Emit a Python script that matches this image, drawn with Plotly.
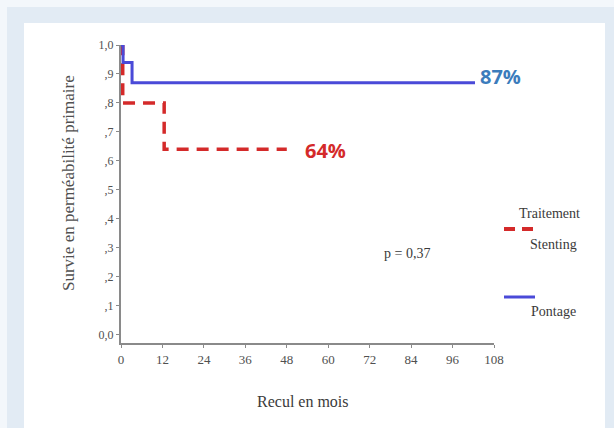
import plotly.graph_objects as go

# ---- data ----
months_ticks = [0, 12, 24, 36, 48, 60, 72, 84, 96, 108]
y_ticks = [0.0, 0.1, 0.2, 0.3, 0.4, 0.5, 0.6, 0.7, 0.8, 0.9, 1.0]
y_tick_labels = ["0,0", ",1", ",2", ",3", ",4", ",5", ",6", ",7", ",8", ",9", "1,0"]

pontage_x = [0, 0.6, 3.2, 102.5]
pontage_y = [1.0, 0.94, 0.87, 0.87]
stenting_x = [0, 0.5, 12.5, 48]
stenting_y = [1.0, 0.80, 0.64, 0.64]

label_pontage = "87%"
label_stenting = "64%"
p_value_text = "p = 0,37"
y_title = "Survie en perméabilité primaire"
x_title = "Recul en mois"

# ---- layout geometry ----
W, H = 614, 428
L, R, T, B = 121, 120, 45, 85
PW, PH = W - L - R, H - T - B

def px(xp):
    return (xp - L) / PW

def py(yp):
    return (H - B - yp) / PH

serif = "Liberation Serif"
blue = "#4a4ad8"
red = "#d42a2a"
txt = "#3a3a3a"

fig = go.Figure()

fig.add_trace(go.Scatter(
    x=stenting_x, y=stenting_y, mode="lines", line_shape="hv",
    line=dict(color=red, width=3.5, dash="12px,8px"), name="Stenting",
    showlegend=False, cliponaxis=False))
fig.add_trace(go.Scatter(
    x=pontage_x, y=pontage_y, mode="lines", line_shape="hv",
    line=dict(color=blue, width=3), name="Pontage", showlegend=False,
    cliponaxis=False))

# white panel
fig.add_shape(type="rect", xref="paper", yref="paper",
              x0=px(24), x1=px(605), y0=py(428), y1=py(23),
              fillcolor="white", line=dict(width=0), layer="below")
# lighter outer border strips
fig.add_shape(type="rect", xref="paper", yref="paper",
              x0=px(0), x1=px(614), y0=py(7), y1=py(0),
              fillcolor="#f3f7fb", line=dict(width=0), layer="below")
fig.add_shape(type="rect", xref="paper", yref="paper",
              x0=px(0), x1=px(7), y0=py(428), y1=py(0),
              fillcolor="#f3f7fb", line=dict(width=0), layer="below")

# end labels
fig.add_annotation(x=pontage_x[-1], y=pontage_y[-1], xref="x", yref="y",
                   text=label_pontage, showarrow=False, xanchor="left",
                   yanchor="middle", xshift=3, yshift=6,
                   font=dict(family="Open Sans", size=20, color="#3b7cbc", weight="bold"))
fig.add_annotation(x=stenting_x[-1], y=stenting_y[-1], xref="x", yref="y",
                   text=label_stenting, showarrow=False, xanchor="left",
                   yanchor="middle", xshift=16, yshift=-1,
                   font=dict(family="Open Sans", size=20, color=red, weight="bold"))

def note(x, y, text, size, color=txt, angle=0):
    fig.add_annotation(x=px(x), y=py(y), xref="paper", yref="paper",
                       xanchor="center", yanchor="middle", textangle=angle,
                       text=text, showarrow=False,
                       font=dict(family=serif, size=size, color=color))

note(407, 253, p_value_text, 14)
note(68, 183, y_title, 17, "#505050", -90)
note(303, 401, x_title, 16)

# manual legend
note(549, 213, "Traitement", 14)
fig.add_shape(type="line", xref="paper", yref="paper",
              x0=px(504), x1=px(535), y0=py(229), y1=py(229),
              line=dict(color=red, width=4, dash="11px,7px"))
note(553, 245, "Stenting", 14)
fig.add_shape(type="line", xref="paper", yref="paper",
              x0=px(504), x1=px(535), y0=py(297), y1=py(297),
              line=dict(color=blue, width=3))
note(553, 311, "Pontage", 14)

fig.update_layout(
    width=W, height=H,
    margin=dict(l=L, r=R, t=T, b=B),
    paper_bgcolor="#e2ebf4",
    plot_bgcolor="white",
    showlegend=False,
    xaxis=dict(range=[0, 108], tickvals=months_ticks,
               ticktext=[str(v) for v in months_ticks],
               showgrid=False, zeroline=False, showline=True,
               linecolor="#8a8a8a", linewidth=2,
               ticks="outside", ticklen=3, tickcolor="#8a8a8a",
               tickfont=dict(family=serif, size=13, color="#505050")),
    yaxis=dict(range=[-0.028, 1.0], tickvals=y_ticks, ticktext=y_tick_labels,
               showgrid=False, zeroline=False, showline=True,
               linecolor="#8a8a8a", linewidth=2,
               ticks="outside", ticklen=3, tickcolor="#8a8a8a",
               tickfont=dict(family=serif, size=12, color="#505050")),
)

fig.write_html("out.html")
